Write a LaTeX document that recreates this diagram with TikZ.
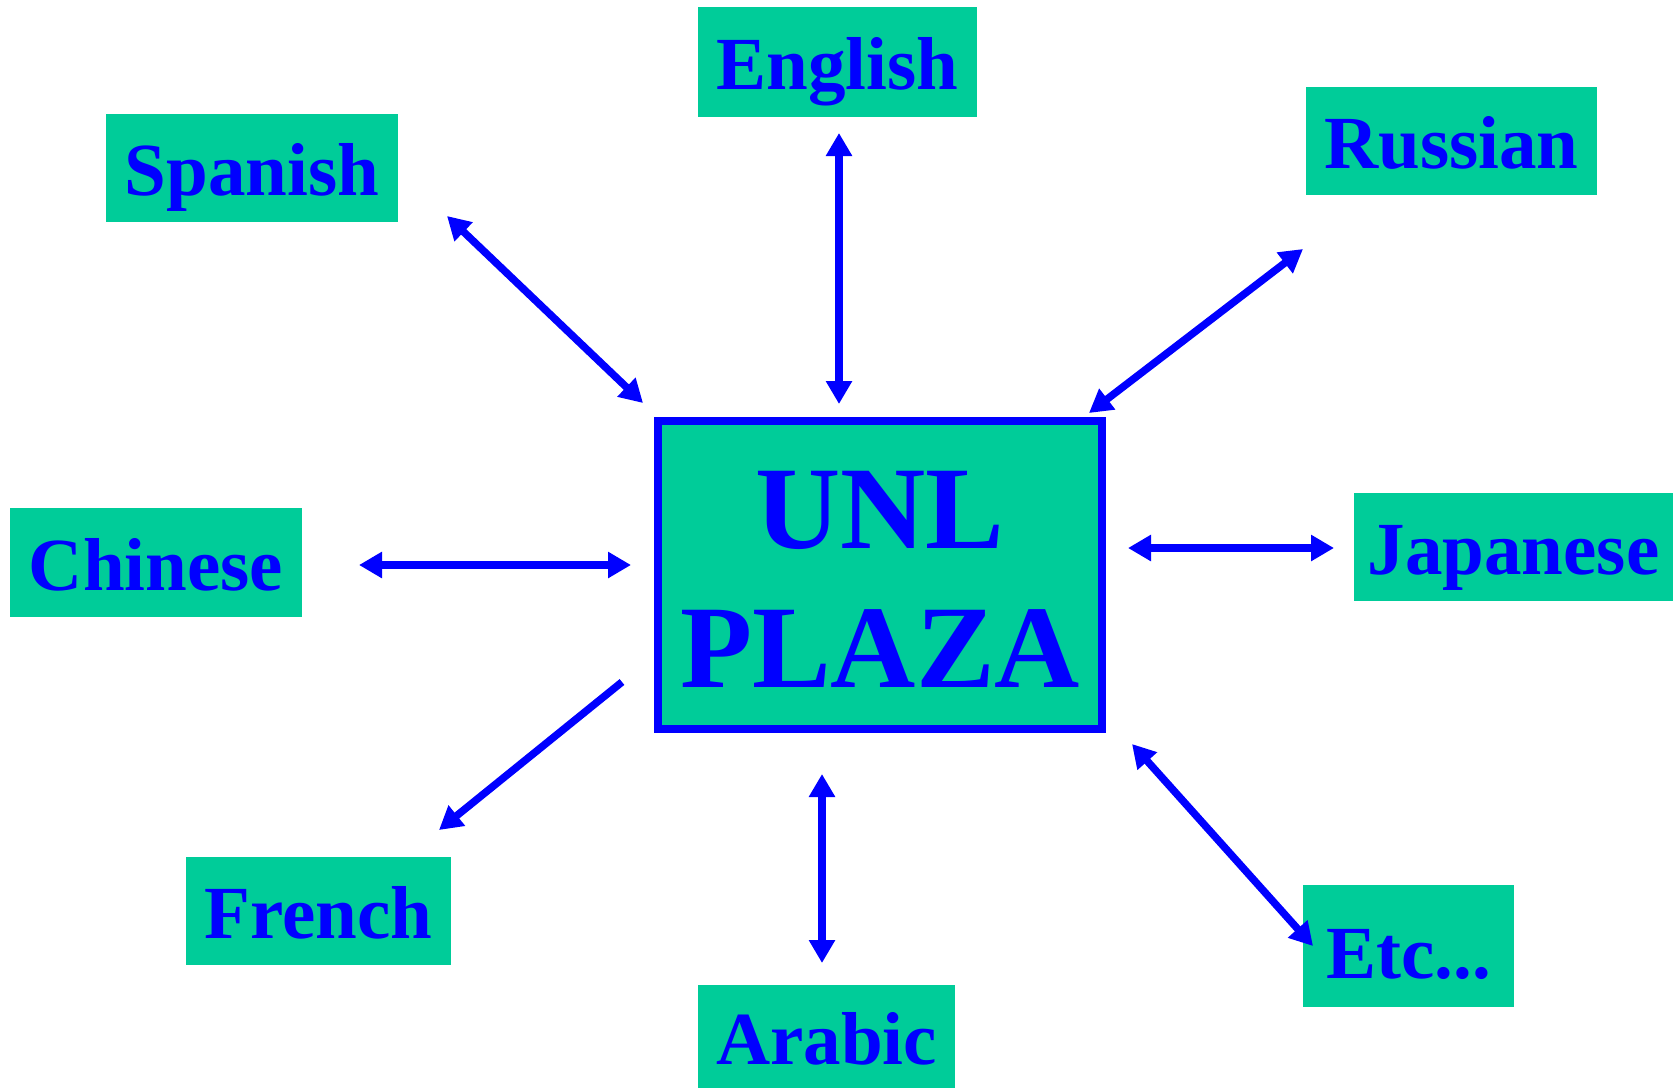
\documentclass[tikz,border=0pt]{standalone}
\usepackage{fontspec}
\setmainfont{Liberation Serif}
\usetikzlibrary{arrows.meta}
\definecolor{boxgreen}{HTML}{00CC99}
\definecolor{txtblue}{HTML}{0000FF}
\tikzset{
  langbox/.style={fill=boxgreen, draw=none, inner sep=0pt, text=txtblue,
    font=\fontsize{75}{80}\selectfont\bfseries, text height=55pt, text depth=0pt},
  hubbox/.style={fill=boxgreen, draw=txtblue, line width=8pt, inner sep=0pt, text=txtblue,
    font=\fontsize{118}{139}\selectfont\bfseries, align=center, text height=224pt, text depth=0pt},
  both/.style={draw=txtblue, line width=7.5pt, {Triangle[length=23pt,width=25pt]}-{Triangle[length=23pt,width=25pt]}},
  one/.style={draw=txtblue, line width=7.5pt, -{Triangle[length=23pt,width=25pt]}}
}
\begin{document}
\begin{tikzpicture}[x=1pt,y=-1pt]
\useasboundingbox (0,0) rectangle (1673,1088);
\node[langbox, minimum width=279pt, minimum height=110pt] (english) at (837.5,62) {English};
\node[langbox, minimum width=292pt, minimum height=108pt] (spanish) at (252,168) {Spanish};
\node[langbox, minimum width=291pt, minimum height=108pt] (russian) at (1451.5,141) {Russian};
\node[langbox, minimum width=292pt, minimum height=109pt] (chinese) at (156,562.5) {Chinese};
\node[langbox, minimum width=319pt, minimum height=108pt] (japanese) at (1513.5,547) {Japanese};
\node[langbox, minimum width=265pt, minimum height=108pt] (french) at (318.5,911) {French};
\node[langbox, minimum width=257pt, minimum height=103pt] (arabic) at (826.5,1036.5) {Arabic};
\node[fill=boxgreen, inner sep=0pt, minimum width=211pt, minimum height=122pt] (etc) at (1408.5,946) {};
\node[text=txtblue, font=\fontsize{75}{80}\selectfont\bfseries, anchor=base, inner sep=0pt] (etctext) at (1408.5,978) {Etc...};
\node[hubbox, minimum width=444pt, minimum height=308pt] (hub) at (880,575) {UNL\\PLAZA};
% arrow end points
\coordinate (sA) at (447,216); \coordinate (sB) at (643,403);
\coordinate (eA) at (839,133); \coordinate (eB) at (839,404);
\coordinate (rA) at (1303,249); \coordinate (rB) at (1089,413);
\coordinate (cA) at (359,565); \coordinate (cB) at (631,565);
\coordinate (jA) at (1128,548); \coordinate (jB) at (1334,548);
\coordinate (fA) at (622,682); \coordinate (fB) at (439,830);
\coordinate (aA) at (822,774); \coordinate (aB) at (822,963);
\coordinate (xA) at (1132,744); \coordinate (xB) at (1313,946);
\draw[both] (sA) -- (sB);
\draw[both] (eA) -- (eB);
\draw[both] (rA) -- (rB);
\draw[both] (cA) -- (cB);
\draw[both] (jA) -- (jB);
\draw[one] (fA) -- (fB);
\draw[both] (aA) -- (aB);
\draw[both] (xA) -- (xB);
\end{tikzpicture}
\end{document}
